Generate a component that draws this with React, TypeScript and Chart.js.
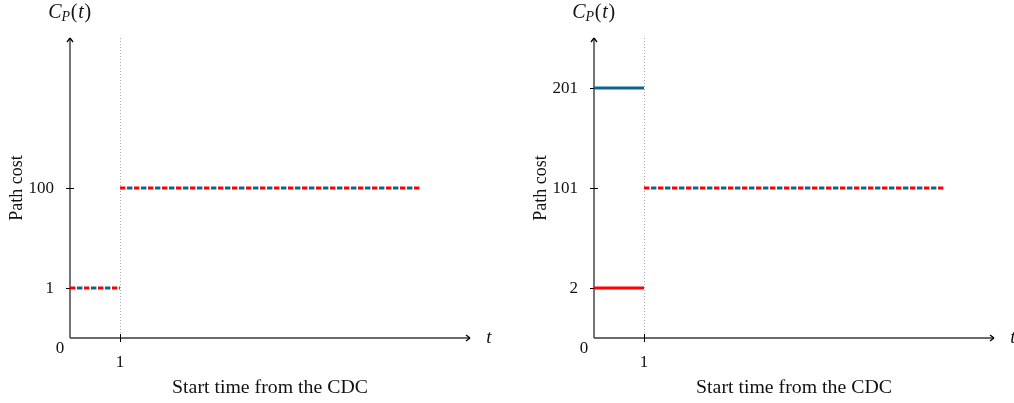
import React, { useEffect, useRef } from 'react';
import { Chart, registerables } from 'chart.js';

Chart.register(...registerables);

// ---- data ----
const startTimes = [0, 1, 7]; // segment breakpoints on the t axis
const xTicks = [1];
const leftYTicks = [1, 100];
const leftRedCost = [1, 100];
const leftBlueCost = [1, 100];
const rightYTicks = [2, 101, 201];
const rightRedCost = [2, 101];
const rightBlueCost = [201, 101];
const xTitle = 'Start time from the CDC';
const yTitle = 'Path cost';

const RED = '#ff0000';
const BLUE = '#0a6690';
const FONT = '"Liberation Serif", "Times New Roman", serif';

// y axis is schematic: each tick value sits on its own evenly spaced level
const level = (ticks: number[], v: number) => 2 * ticks.indexOf(v) + 1;

function line(ctx: CanvasRenderingContext2D, x1: number, y1: number, x2: number, y2: number) {
  ctx.beginPath();
  ctx.moveTo(x1, y1);
  ctx.lineTo(x2, y2);
  ctx.stroke();
}

const panelPlugin = {
  id: 'panel',
  beforeDatasetsDraw(chart: any, _a: any, opts: any) {
    const { ctx, chartArea: ca } = chart;
    const xs = chart.scales.x;
    const ys = chart.scales.y;
    const x0 = Math.round(xs.getPixelForValue(0));
    const y0 = Math.round(ys.getPixelForValue(0));
    const yTicks: number[] = opts.yTicks;
    ctx.save();
    // dotted guide lines
    ctx.strokeStyle = '#a8a8a8';
    ctx.lineWidth = 1;
    ctx.setLineDash([1, 2]);
    xTicks.forEach((t) => {
      const x = Math.round(xs.getPixelForValue(t)) + 0.5;
      line(ctx, x, ca.top, x, y0);
    });
    ctx.setLineDash([]);
    // axes
    ctx.strokeStyle = '#3a3a3a';
    ctx.lineWidth = 1.4;
    line(ctx, x0, y0, ca.right - 1, y0);
    line(ctx, x0, y0, x0, ca.top + 1);
    // arrowheads
    ctx.strokeStyle = '#000';
    ctx.lineWidth = 1.3;
    const tx = ca.right;
    line(ctx, tx - 4, y0 - 3, tx, y0);
    line(ctx, tx - 4, y0 + 3, tx, y0);
    const ty = ca.top;
    line(ctx, x0 - 3, ty + 4, x0, ty);
    line(ctx, x0 + 3, ty + 4, x0, ty);
    // ticks
    ctx.lineWidth = 1;
    yTicks.forEach((v) => {
      const y = Math.round(ys.getPixelForValue(level(yTicks, v))) + 0.5;
      line(ctx, x0 - 4, y, x0 + 4, y);
    });
    xTicks.forEach((t) => {
      const x = Math.round(xs.getPixelForValue(t)) + 0.5;
      line(ctx, x, y0 - 4, x, y0 + 4);
    });
    ctx.restore();
  },
  afterDraw(chart: any, _a: any, opts: any) {
    const { ctx, chartArea: ca } = chart;
    const xs = chart.scales.x;
    const ys = chart.scales.y;
    const x0 = xs.getPixelForValue(0);
    const y0 = ys.getPixelForValue(0);
    const yTicks: number[] = opts.yTicks;
    ctx.save();
    ctx.fillStyle = '#111';
    ctx.font = `17px ${FONT}`;
    ctx.textBaseline = 'middle';
    // y tick labels
    ctx.textAlign = 'right';
    yTicks.forEach((v) => {
      ctx.fillText(String(v), x0 - 16, ys.getPixelForValue(level(yTicks, v)) + 1);
    });
    // x tick labels
    ctx.textAlign = 'center';
    xTicks.forEach((t) => {
      ctx.fillText(String(t), xs.getPixelForValue(t), y0 + 25);
    });
    ctx.fillText('0', x0 - 10, y0 + 11);
    // x title (slightly widened, like the reference's wide serif face)
    ctx.font = `18px ${FONT}`;
    ctx.save();
    ctx.translate((ca.left + ca.right) / 2, y0 + 50);
    ctx.scale(1.1, 1);
    ctx.fillText(xTitle, 0, 0);
    ctx.restore();
    // y title
    ctx.save();
    ctx.translate(ca.left - 53, (ca.top + ca.bottom) / 2);
    ctx.rotate(-Math.PI / 2);
    ctx.fillText(yTitle, 0, 0);
    ctx.restore();
    // axis name t
    ctx.font = `italic 19px ${FONT}`;
    ctx.fillText('t', ca.right + 19, y0);
    // C_P(t)
    const parts = [
      { s: 'C', f: `italic 20px ${FONT}`, dy: 0 },
      { s: 'P', f: `italic 14px ${FONT}`, dy: 4 },
      { s: '(', f: `20px ${FONT}`, dy: 0 },
      { s: 't', f: `italic 20px ${FONT}`, dy: 0 },
      { s: ')', f: `20px ${FONT}`, dy: 0 },
    ];
    let total = 0;
    const widths = parts.map((p) => {
      ctx.font = p.f;
      const w = ctx.measureText(p.s).width + (p.s === 'C' ? 0 : 0.7);
      total += w;
      return w;
    });
    let cx = x0 - total / 2;
    ctx.textAlign = 'left';
    parts.forEach((p, i) => {
      ctx.font = p.f;
      ctx.fillText(p.s, cx, 13 + p.dy);
      cx += widths[i];
    });
    ctx.restore();
  },
};

function buildDatasets(yTicks: number[], red: number[], blue: number[]) {
  const ds: any[] = [];
  for (let i = 0; i < startTimes.length - 1; i++) {
    const dashed = red[i] === blue[i];
    [
      { c: red[i], col: RED, off: 0 },
      { c: blue[i], col: BLUE, off: 7 },
    ].forEach((s) => {
      ds.push({
        data: [
          { x: startTimes[i], y: level(yTicks, s.c) },
          { x: startTimes[i + 1], y: level(yTicks, s.c) },
        ],
        borderColor: s.col,
        borderWidth: 3,
        borderDash: dashed ? [5.4, 8.6] : [],
        borderDashOffset: dashed ? s.off : 0,
        borderCapStyle: 'butt',
        pointRadius: 0,
        fill: false,
        tension: 0,
      });
    });
  }
  return ds;
}

function Panel({ left, width, yTicks, red, blue }: any) {
  const ref = useRef<HTMLCanvasElement>(null);
  useEffect(() => {
    const chart = new Chart(ref.current!, {
      type: 'line',
      data: { datasets: buildDatasets(yTicks, red, blue) },
      options: {
        animation: false,
        responsive: false,
        devicePixelRatio: 1,
        layout: { padding: { left: 70, top: 38, right: width - 470, bottom: 65 } },
        scales: {
          x: { type: 'linear', min: 0, max: 8, display: false },
          y: { type: 'linear', min: 0, max: 6, display: false },
        },
        plugins: {
          legend: { display: false },
          tooltip: { enabled: false },
          panel: { yTicks },
        } as any,
      },
      plugins: [panelPlugin as any],
    });
    return () => chart.destroy();
  }, []);
  return (
    <canvas
      ref={ref}
      width={width}
      height={403}
      style={{ position: 'absolute', left, top: 0, width, height: 403 }}
    />
  );
}

export default function App() {
  return (
    <div style={{ position: 'fixed', left: 0, top: 0, width: 1014, height: 403, background: '#fff', overflow: 'hidden' }}>
      <Panel left={0} width={510} yTicks={leftYTicks} red={leftRedCost} blue={leftBlueCost} />
      <Panel left={524} width={490} yTicks={rightYTicks} red={rightRedCost} blue={rightBlueCost} />
    </div>
  );
}
